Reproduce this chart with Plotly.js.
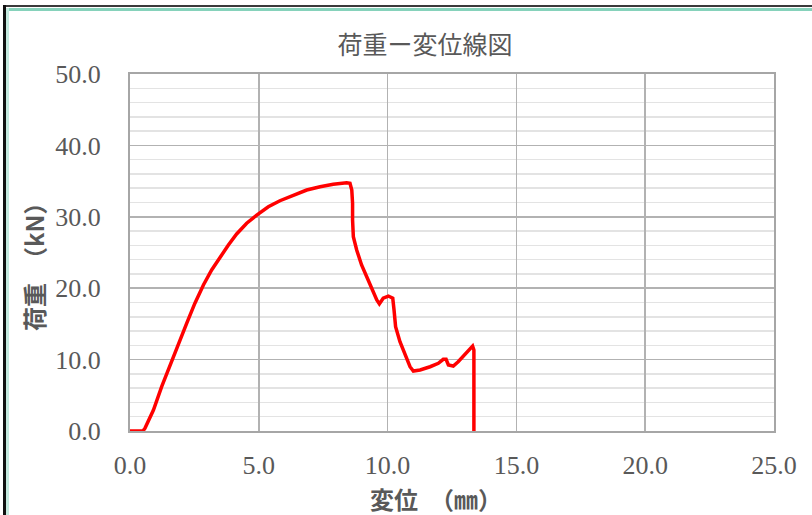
<!DOCTYPE html>
<html>
<head>
<meta charset="utf-8">
<script src="https://cdn.plot.ly/plotly-3.0.1.min.js"></script>
<style>
  html, body { margin: 0; padding: 0; background: #ffffff; }
  #wrap { position: relative; width: 812px; height: 515px; overflow: hidden; }
  #chart { position: absolute; left: 0; top: 0; width: 812px; height: 515px; }
  .bd { position: absolute; pointer-events: none; }
</style>
</head>
<body>
<div id="wrap">
  <div id="chart"></div>
  <div class="bd" style="left:3px; top:5px; width:809px; height:2px; background:#3a3a3a;"></div>
  <div class="bd" style="left:7px; top:8px; width:805px; height:3px; background:#86d2bb;"></div>
  <div class="bd" style="left:3px; top:5px; width:3px; height:510px; background:#111111;"></div>
  <div class="bd" style="left:6px; top:8px; width:3px; height:507px; background:#c4eadf;"></div>
</div>
<script>
// Displacement (mm) and load (kN)
const displacement = [0, 0.5, 0.58, 0.91, 1.23, 1.55, 1.88, 2.2, 2.52, 2.85, 3.17, 3.49, 3.82, 4.14, 4.53, 4.92, 5.37, 5.82, 6.34, 6.86, 7.38, 7.89, 8.41, 8.54, 8.61, 8.64, 8.64, 8.67, 8.8, 8.99, 9.19, 9.38, 9.58, 9.68, 9.83, 10.03, 10.2, 10.25, 10.31, 10.48, 10.68, 10.87, 11.0, 11.26, 11.65, 11.97, 12.16, 12.27, 12.36, 12.55, 12.74, 13.07, 13.3, 13.35, 13.35];
const load = [0, 0, 0.37, 2.94, 6.2, 9.24, 12.28, 15.08, 17.9, 20.45, 22.55, 24.3, 26.05, 27.6, 29.1, 30.25, 31.4, 32.25, 33.05, 33.75, 34.2, 34.55, 34.78, 34.69, 33.75, 31.9, 29.55, 27.2, 25.35, 23.25, 21.6, 19.98, 18.35, 17.8, 18.6, 18.9, 18.6, 16.95, 14.6, 12.5, 10.65, 9.0, 8.4, 8.54, 9.0, 9.48, 10.04, 10.04, 9.24, 9.1, 9.7, 11.1, 11.9, 11.35, 0];

const chartTitle = '荷重ー変位線図';
const xTitle = '変位　（㎜）';
const yTitle = '荷重　（kN）';

const trace = {
  x: displacement,
  y: load,
  type: 'scatter',
  mode: 'lines',
  line: { color: '#ff0000', width: 3.5, shape: 'linear' },
  hoverinfo: 'x+y'
};

const tickFont = { family: 'Liberation Serif, serif', size: 26, color: '#595959' };
const cjk = 'Noto Sans CJK JP, sans-serif';

const layout = {
  width: 812,
  height: 515,
  paper_bgcolor: 'rgba(0,0,0,0)',
  plot_bgcolor: '#ffffff',
  margin: { l: 130, r: 38, t: 74, b: 84 },
  showlegend: false,
  title: {
    text: chartTitle,
    font: { family: cjk, size: 25, color: '#595959' },
    xref: 'container', yref: 'container',
    x: 425 / 812, xanchor: 'center',
    y: 1 - 45 / 515, yanchor: 'middle'
  },
  xaxis: {
    range: [0, 25],
    dtick: 5,
    tick0: 0,
    tickformat: '.1f',
    showgrid: true,
    gridcolor: '#b2b2b2',
    gridwidth: 1.5,
    zeroline: false,
    showline: true,
    mirror: true,
    linecolor: '#a6a6a6',
    linewidth: 2,
    ticks: '',
    ticklabelstandoff: 10,
    tickfont: tickFont,
    fixedrange: true
  },
  yaxis: {
    range: [0, 50],
    dtick: 10,
    tick0: 0,
    tickformat: '.1f',
    showgrid: true,
    gridcolor: '#b2b2b2',
    gridwidth: 1.5,
    minor: { dtick: 2, showgrid: true, gridcolor: '#e3e3e3', gridwidth: 1.5 },
    zeroline: false,
    showline: true,
    mirror: true,
    linecolor: '#a6a6a6',
    linewidth: 2,
    ticks: '',
    ticklabelstandoff: 22,
    tickfont: tickFont,
    fixedrange: true
  },
  annotations: [
    {
      text: '<b>' + xTitle + '</b>',
      xref: 'paper', yref: 'paper',
      x: (436 - 130) / 644, y: -(498 - 431) / 357,
      xanchor: 'center', yanchor: 'middle',
      showarrow: false,
      font: { family: cjk, size: 24, color: '#595959' }
    },
    {
      text: '<b>' + yTitle + '</b>',
      xref: 'paper', yref: 'paper',
      x: (33 - 130) / 644, y: (431 - 261) / 357,
      xanchor: 'center', yanchor: 'middle',
      textangle: -90,
      showarrow: false,
      font: { family: cjk, size: 24, color: '#595959' }
    }
  ]
};

Plotly.newPlot('chart', [trace], layout, { displayModeBar: false, staticPlot: true });
</script>
</body>
</html>
